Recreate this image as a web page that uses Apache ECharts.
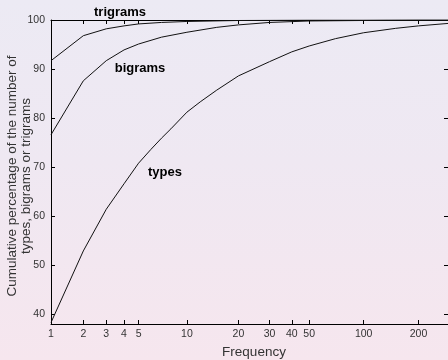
<!DOCTYPE html>
<html>
<head>
<meta charset="utf-8">
<script src="https://cdn.jsdelivr.net/npm/echarts@6/dist/echarts.min.js"></script>
<style>
html,body{margin:0;padding:0;}
#c{width:448px;height:360px;background:linear-gradient(to bottom,#ECEAF4 0%,#EFE8F2 45%,#F6E6EE 100%);}
</style>
</head>
<body>
<div id="c"></div>
<script>
// Frequencies (x) and cumulative percentages (y)
const typesFreq   = [1, 2, 3, 4, 5, 6, 7, 8, 10, 12, 15, 20, 30, 40, 50, 70, 100, 150, 200, 290];
const typesPct    = [38.3, 52.9, 61.4, 66.6, 70.8, 73.6, 75.9, 77.8, 81.2, 83.3, 85.7, 88.6, 91.5, 93.5, 94.7, 96.2, 97.4, 98.3, 98.8, 99.3];
const bigramsFreq = [1, 2, 3, 4, 5, 7, 10, 15, 20, 30, 50, 100, 200, 290];
const bigramsPct  = [76.6, 87.6, 91.7, 93.9, 95.1, 96.5, 97.5, 98.5, 99.0, 99.5, 99.8, 99.9, 100, 100];
const trigramsFreq= [1, 2, 3, 4, 5, 7, 10, 20, 50, 290];
const trigramsPct = [91.7, 96.8, 98.2, 98.8, 99.2, 99.5, 99.7, 99.9, 100, 100];
const xTickLabels = [1, 2, 3, 4, 5, 10, 20, 30, 40, 50, 100, 200];
const yTickLabels = [40, 50, 60, 70, 80, 90, 100];
const seriesNames = ['types', 'bigrams', 'trigrams'];

// The horizontal scale is logarithmic in (frequency + 1)
const shift = f => f + 1;
const pairs = (fs, ps) => fs.map((f, i) => [shift(f), ps[i]]);
const xTicks = xTickLabels.map(shift);

const chart = echarts.init(document.getElementById('c'), null, {renderer: 'canvas'});
const axisCommonX = {
  type: 'log', logBase: 10, min: shift(1), max: shift(290),
  axisLine: {show: true, lineStyle: {color: '#000', width: 1}},
  axisTick: {show: true, inside: true, length: 4, customValues: xTicks, lineStyle: {color: '#000'}},
  splitLine: {show: false}, minorTick: {show: false}
};
const axisCommonY = {
  type: 'value', min: 38, max: 100,
  axisLine: {show: true, onZero: false, lineStyle: {color: '#000', width: 1}},
  axisTick: {show: true, inside: true, length: 4, customValues: yTickLabels, lineStyle: {color: '#000'}},
  splitLine: {show: false}
};
const lineStyle = {color: '#111', width: 1};
const labelFont = 'bold 13px "Liberation Sans", Arial';
chart.setOption({
  animation: false,
  backgroundColor: 'transparent',
  grid: {left: 51, top: 20, right: 0, bottom: 36, containLabel: false, outerBoundsMode: 'none'},
  xAxis: [
    Object.assign({}, axisCommonX, {
      position: 'bottom',
      name: 'Frequency', nameLocation: 'middle', nameGap: 21, nameMoveOverlap: false,
      nameTextStyle: {fontFamily: 'Liberation Sans, Arial', fontSize: 13.5, color: '#333', padding: [0, 0, 0, 9]},
      axisLabel: {show: true, customValues: xTicks, margin: 5, fontFamily: 'Liberation Sans, Arial', fontSize: 10.5, color: '#333',
        formatter: v => String(Math.round(v - 1))}
    }),
    Object.assign({}, axisCommonX, {position: 'top', axisLabel: {show: false}})
  ],
  yAxis: [
    Object.assign({}, axisCommonY, {
      position: 'left',
      name: 'Cumulative percentage of the number of\ntypes, bigrams or trigrams',
      nameLocation: 'middle', nameGap: 18, nameMoveOverlap: false,
      nameTextStyle: {fontFamily: 'Liberation Sans, Arial', fontSize: 13.5, lineHeight: 14, color: '#333', padding: [0, 8, 0, 0]},
      axisLabel: {show: true, customValues: yTickLabels, margin: 6, fontFamily: 'Liberation Sans, Arial', fontSize: 10.5, color: '#333'}
    }),
    Object.assign({}, axisCommonY, {position: 'right', axisLabel: {show: false}})
  ],
  series: [
    {name: seriesNames[0], type: 'line', data: pairs(typesFreq, typesPct), showSymbol: false, symbol: 'none', lineStyle: lineStyle, z: 3},
    {name: seriesNames[1], type: 'line', data: pairs(bigramsFreq, bigramsPct), showSymbol: false, symbol: 'none', lineStyle: lineStyle, z: 3},
    {name: seriesNames[2], type: 'line', data: pairs(trigramsFreq, trigramsPct), showSymbol: false, symbol: 'none', lineStyle: lineStyle, z: 3}
  ],
  graphic: [
    {type: 'text', x: 120, y: 12, style: {text: seriesNames[2], fill: '#000', font: labelFont, textAlign: 'center', textVerticalAlign: 'middle'}},
    {type: 'text', x: 140, y: 68, style: {text: seriesNames[1], fill: '#000', font: labelFont, textAlign: 'center', textVerticalAlign: 'middle'}},
    {type: 'text', x: 165, y: 172, style: {text: seriesNames[0], fill: '#000', font: labelFont, textAlign: 'center', textVerticalAlign: 'middle'}}
  ]
});
</script>
</body>
</html>
